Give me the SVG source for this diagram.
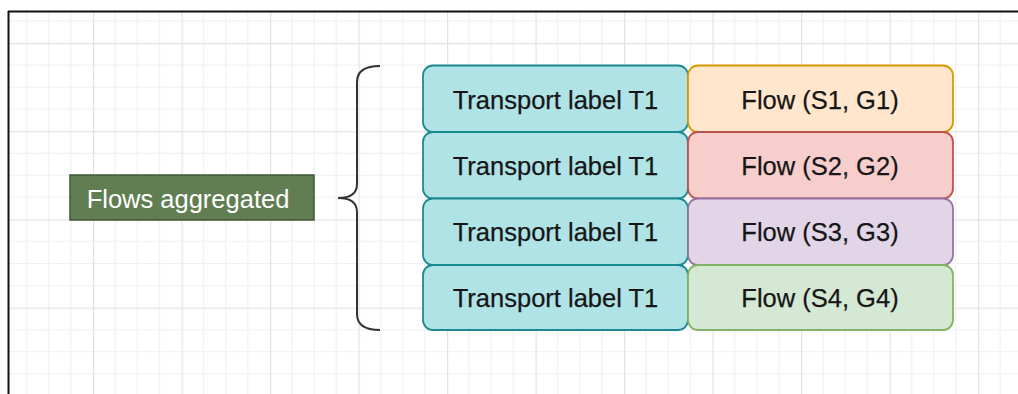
<svg xmlns="http://www.w3.org/2000/svg" width="1018" height="394" viewBox="0 0 1018 394">
  <defs>
    <pattern id="grid" patternUnits="userSpaceOnUse" x="4.5" y="43" width="88.5" height="88.2">
      <path d="M22.125 0V88.2M44.25 0V88.2M66.375 0V88.2M0 22.05H88.5M0 44.1H88.5M0 66.15H88.5" stroke="#f0f0f0" stroke-width="1.2" fill="none"/>
      <path d="M0.5 0V88.2M0 0.5H88.5" stroke="#e2e2e2" stroke-width="1.4" fill="none"/>
    </pattern>
  </defs>
  <style>
    .lbl { font-family: "Liberation Sans", Arial, sans-serif; font-size: 25.5px; fill: #161616; text-anchor: middle; stroke: #161616; stroke-width: 0.25; }
    .teal { fill: #b0e3e6; stroke: #1a8a90; stroke-width: 1.8; }
    .orange { fill: #ffe6cc; stroke: #d79b00; stroke-width: 1.8; }
    .red { fill: #f8cecc; stroke: #b85450; stroke-width: 1.8; }
    .purple { fill: #e1d5e7; stroke: #9673a6; stroke-width: 1.8; }
    .green { fill: #d5e8d4; stroke: #82b366; stroke-width: 1.8; }
  </style>
  <rect x="0" y="0" width="1018" height="394" fill="#ffffff"/>
  <rect x="8" y="11" width="1010" height="383" fill="url(#grid)"/>
  <path d="M8 11.5H1018M8.5 11V394" stroke="#111" stroke-width="2" fill="none"/>

  <g id="flows-aggregated">
    <rect x="70" y="175" width="244" height="45" fill="#607e52" stroke="#3e5a33" stroke-width="1.5"/>
    <text x="188" y="208" font-family="Liberation Sans, Arial, sans-serif" font-size="25.5" fill="#ffffff" text-anchor="middle">Flows aggregated</text>
  </g>

  <g id="brace">
    <path d="M380 66 Q357 66 357 82 L357 184 Q357 198 338 198 Q357 198 357 212 L357 314 Q357 330 380 330" fill="none" stroke="#333" stroke-width="2"/>
  </g>

  <g id="transport-1">
    <rect class="teal" x="423" y="65.5" width="265" height="66.5" rx="10"/>
    <text class="lbl" x="555.5" y="108.5">Transport label T1</text>
  </g>
  <g id="transport-2">
    <rect class="teal" x="423" y="132" width="265" height="66.5" rx="10"/>
    <text class="lbl" x="555.5" y="174.5">Transport label T1</text>
  </g>
  <g id="transport-3">
    <rect class="teal" x="423" y="198.5" width="265" height="66.5" rx="10"/>
    <text class="lbl" x="555.5" y="241">Transport label T1</text>
  </g>
  <g id="transport-4">
    <rect class="teal" x="423" y="265" width="265" height="65" rx="10"/>
    <text class="lbl" x="555.5" y="307">Transport label T1</text>
  </g>

  <g id="flow-1">
    <rect class="orange" x="688" y="65.5" width="265" height="66.5" rx="10"/>
    <text class="lbl" x="820" y="108.5">Flow (S1, G1)</text>
  </g>
  <g id="flow-2">
    <rect class="red" x="688" y="132" width="265" height="66.5" rx="10"/>
    <text class="lbl" x="820" y="174.5">Flow (S2, G2)</text>
  </g>
  <g id="flow-3">
    <rect class="purple" x="688" y="198.5" width="265" height="66.5" rx="10"/>
    <text class="lbl" x="820" y="241">Flow (S3, G3)</text>
  </g>
  <g id="flow-4">
    <rect class="green" x="688" y="265" width="265" height="65" rx="10"/>
    <text class="lbl" x="820" y="307">Flow (S4, G4)</text>
  </g>

  <g id="connectors"></g>
</svg>
